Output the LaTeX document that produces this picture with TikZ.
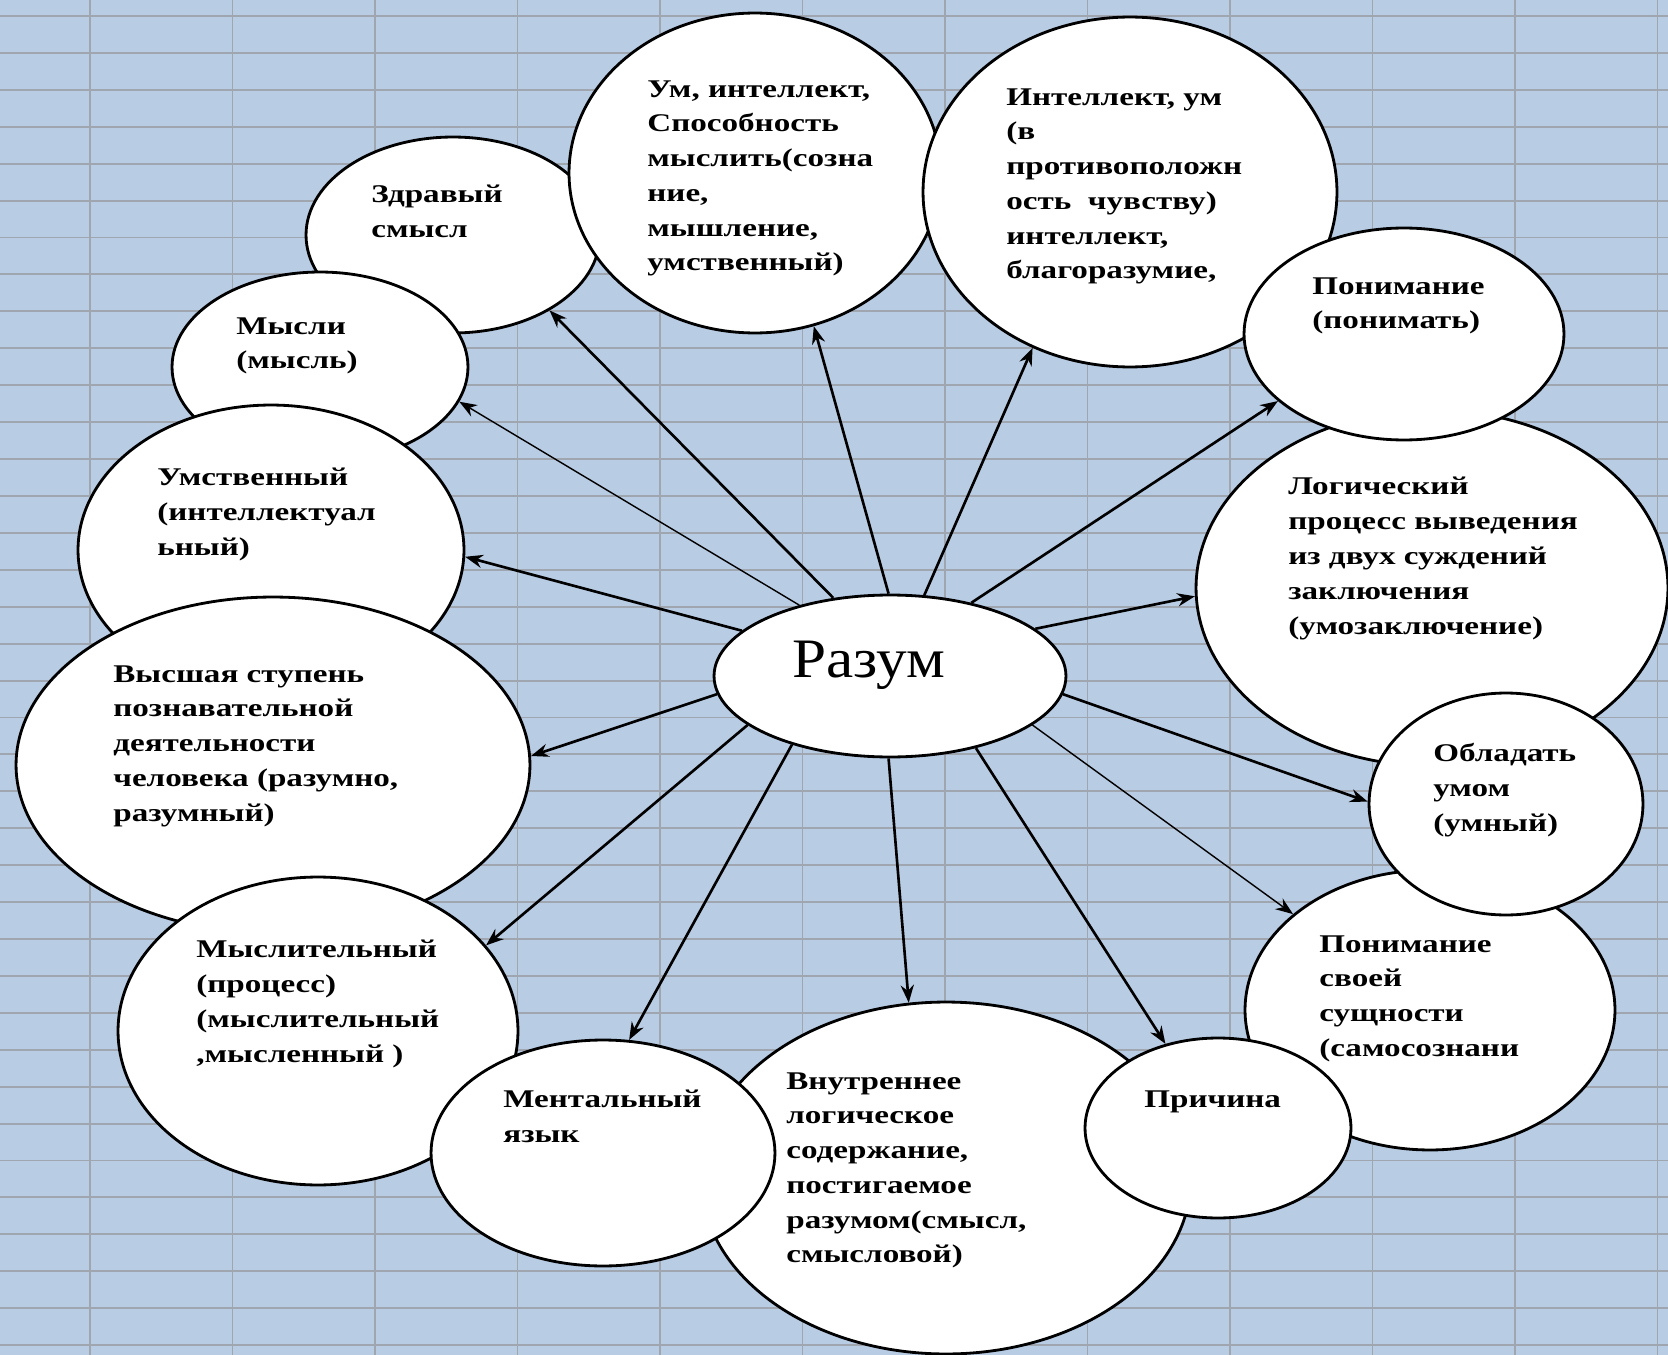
\documentclass[tikz,border=0pt]{standalone}
\usepackage{fontspec}
\setmainfont[FakeStretch=1.3]{Liberation Serif}
\newfontfamily\razfont[FakeStretch=1.1]{Liberation Serif}
\usetikzlibrary{shapes.geometric, arrows.meta}
\definecolor{sheetblue}{RGB}{184,204,228}
\definecolor{sheetline}{RGB}{160,166,176}
\tikzset{>={Stealth[length=10pt,width=7.5pt]}}
\tikzset{
  bubble/.style={ellipse, draw=black, fill=white, line width=1.6pt, inner sep=0pt},
  lbl/.style={anchor=north west, inner sep=0pt, align=left,
    font=\bfseries\fontsize{14.5}{19.8}\selectfont, execute at begin node={\strut}},
  link/.style={->, line width=1.5pt},
  thinlink/.style={->, line width=0.8pt},
  gridline/.style={draw=sheetline, line width=1.1pt}
}

\begin{document}
\begin{tikzpicture}[x=0.02cm, y=-0.02cm]
  \useasboundingbox (0,0) rectangle (1668,1355);
  \fill[sheetblue] (0,0) rectangle (1668,1355);
  \foreach \gx in {0,...,11}
    \draw[gridline] ({90+142.5*\gx},0) -- ({90+142.5*\gx},1355);
  \foreach \gy in {0,...,36}
    \draw[gridline] (0,{16+36.92*\gy}) -- (1668,{16+36.92*\gy});

  \node[bubble, minimum width=5.88cm, minimum height=3.92cm] (zdr) at (453,235) {};
  \node[lbl] (zdr-t) at (371,185) {Здравый\\смысл};
  \node[bubble, minimum width=7.44cm, minimum height=6.4cm] (um) at (755,173) {};
  \node[lbl] (um-t) at (647,80) {Ум, интеллект,\\Способность\\мыслить(созна\\ние,\\мышление,\\умственный)};
  \node[bubble, minimum width=8.28cm, minimum height=7cm] (int) at (1130,192) {};
  \node[lbl] (int-t) at (1006,88) {Интеллект, ум\\(в\\противоположн\\ость\ \ чувству)\\интеллект,\\благоразумие,};
  \node[bubble, minimum width=9.44cm, minimum height=7.12cm] (log) at (1432,588) {};
  \node[lbl] (log-t) at (1288,477) {Логический\\процесс выведения\\из двух суждений\\заключения\\(умозаключение)};
  \node[bubble, minimum width=6.4cm, minimum height=4.24cm] (pon) at (1404,334) {};
  \node[lbl] (pon-t) at (1312,277) {Понимание\\(понимать)};
  \node[bubble, minimum width=7.4cm, minimum height=5.6cm] (samo) at (1430,1010) {};
  \node[lbl] (samo-t) at (1319,935) {Понимание\\своей\\сущности\\(самосознани\\)};
  \node[bubble, minimum width=5.48cm, minimum height=4.44cm] (obl) at (1506,804) {};
  \node[lbl] (obl-t) at (1433,743) {Обладать\\умом\\(умный)};
  \node[bubble, minimum width=9.8cm, minimum height=7.04cm] (vnut) at (946,1178) {};
  \node[lbl] (vnut-t) at (786,1072) {Внутреннее\\логическое\\содержание,\\постигаемое\\разумом(смысл,\\смысловой)};
  \node[bubble, minimum width=5.32cm, minimum height=3.6cm] (prich) at (1218,1128) {};
  \node[lbl] (prich-t) at (1144,1083) {Причина};
  \node[bubble, minimum width=5.92cm, minimum height=3.8cm] (mys) at (320,367) {};
  \node[lbl] (mys-t) at (236,317) {Мысли\\(мысль)};
  \node[bubble, minimum width=7.72cm, minimum height=5.8cm] (umst) at (271,550) {};
  \node[lbl] (umst-t) at (157,468) {Умственный\\(интеллектуал\\ьный)};
  \node[bubble, minimum width=10.28cm, minimum height=6.72cm] (vys) at (273,765) {};
  \node[lbl] (vys-t) at (113,665) {Высшая ступень\\познавательной\\деятельности\\человека (разумно,\\разумный)};
  \node[bubble, minimum width=8cm, minimum height=6.16cm] (mysl) at (318,1031) {};
  \node[lbl] (mysl-t) at (196,940) {Мыслительный\\(процесс)\\(мыслительный\\,мысленный )};
  \node[bubble, minimum width=6.88cm, minimum height=4.52cm] (ment) at (603,1153) {};
  \node[lbl] (ment-t) at (503,1090) {Ментальный\\язык};

  \node[bubble, minimum width=7.04cm, minimum height=3.24cm] (raz) at (890,676) {};
  \node[anchor=base, inner sep=0pt, font=\razfont\fontsize{31.7}{36}\selectfont] (raz-t) at (869,677) {Разум};

  \draw[link] (raz.126) -- (zdr.-38);
  \draw[thinlink] (raz.142) -- (mys.-14);
  \draw[link] (raz.163) -- (umst.-2);
  \draw[link] (raz.186) -- (vys.2);
  \draw[link] (raz.199) -- (mysl.27);
  \draw[link] (raz.215) -- (ment.77);
  \draw[link] (raz.269) -- (vnut.102);
  \draw[link] (raz.320) -- (prich.122);
  \draw[thinlink] (raz.341) -- (samo.145);
  \draw[link] (raz.354) -- (obl.179);
  \draw[link] (raz.18) -- (log.182);
  \draw[link] (raz.42) -- (pon.208);
  \draw[link] (raz.67) -- (int.238);
  \draw[link] (raz.91) -- (um.291);
\end{tikzpicture}
\end{document}
